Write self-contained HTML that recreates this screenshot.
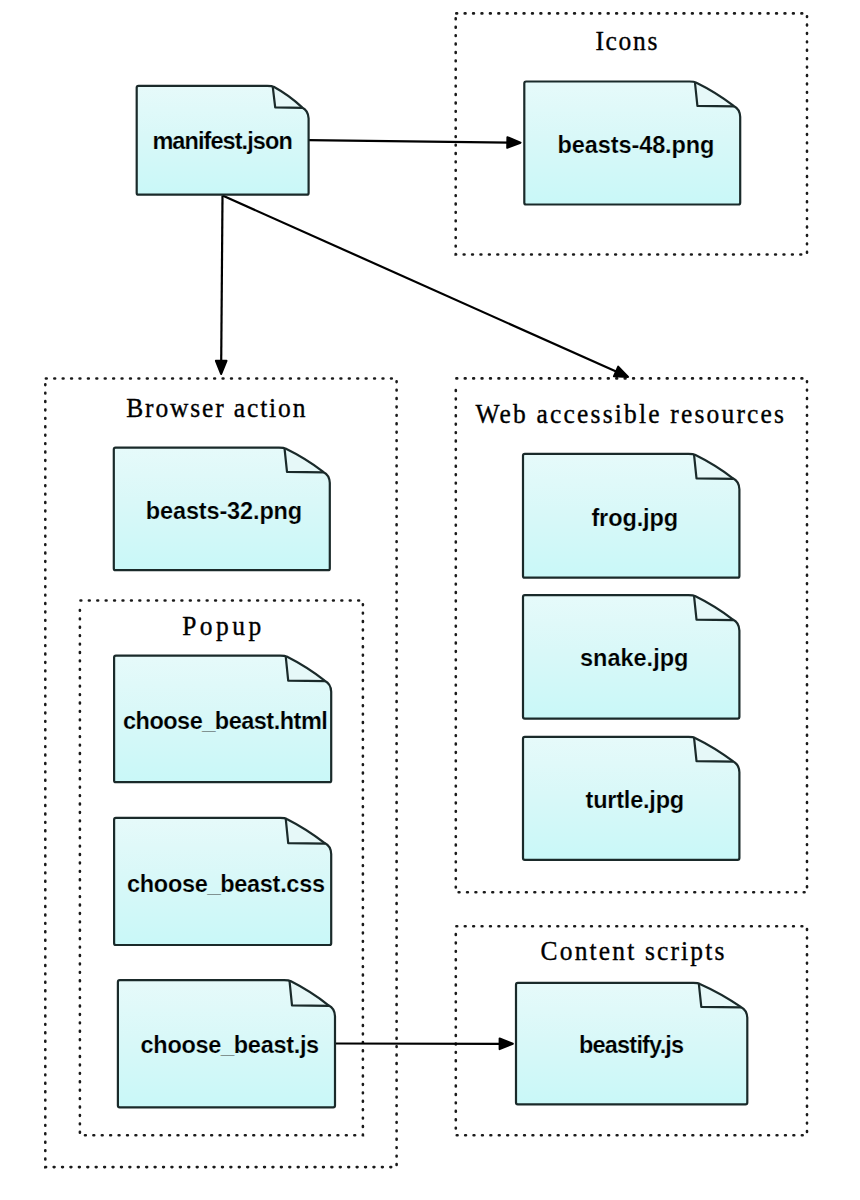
<!DOCTYPE html>
<html><head><meta charset="utf-8"><style>
html,body{margin:0;padding:0;background:#fff;width:860px;height:1200px;overflow:hidden}
svg{display:block}
.lbl{font-family:"Liberation Sans",sans-serif;font-weight:bold;fill:#000;stroke:#d8f6f5;stroke-width:0.2px}
.grp{font-family:"Liberation Serif",serif;fill:#000;stroke:#000;stroke-width:0.35px}
</style></head><body>
<svg width="860" height="1200" viewBox="0 0 860 1200">
<defs>
<linearGradient id="g" x1="0" y1="0" x2="0" y2="1">
<stop offset="0" stop-color="#e6fafa"/>
<stop offset="0.45" stop-color="#d9f8f8"/>
<stop offset="1" stop-color="#c9f8f8"/>
</linearGradient>
</defs>
<path d="M455.7,13.4 H807.0 V254.5 H455.7 V17.9" fill="none" stroke="#1a1a1a" stroke-width="2.6" stroke-dasharray="0.8 7.617" stroke-dashoffset="-0.6" stroke-linecap="round"/>
<text class="grp" x="595.40" y="49.99" font-size="25.5" textLength="62.00" lengthAdjust="spacing" transform="translate(0,49.99) scale(1,1.1) translate(0,-49.99)">Icons</text>
<path d="M45.3,378.5 H396.6 V1167.1 H45.3 V383.0" fill="none" stroke="#1a1a1a" stroke-width="2.6" stroke-dasharray="0.8 7.617" stroke-dashoffset="-0.6" stroke-linecap="round"/>
<text class="grp" x="126.20" y="417.47" font-size="25.5" textLength="179.20" lengthAdjust="spacing" transform="translate(0,417.47) scale(1,1.1) translate(0,-417.47)">Browser action</text>
<path d="M79.9,600.5 H362.9 V1135.2 H79.9 V605.0" fill="none" stroke="#1a1a1a" stroke-width="2.6" stroke-dasharray="0.8 7.617" stroke-dashoffset="-0.6" stroke-linecap="round"/>
<text class="grp" x="182.20" y="634.74" font-size="25.5" textLength="79.00" lengthAdjust="spacing" transform="translate(0,634.74) scale(1,1.1) translate(0,-634.74)">Popup</text>
<path d="M455.8,378.4 H807.0 V892.3 H455.8 V382.9" fill="none" stroke="#1a1a1a" stroke-width="2.6" stroke-dasharray="0.8 7.617" stroke-dashoffset="-0.6" stroke-linecap="round"/>
<text class="grp" x="475.40" y="422.88" font-size="25.5" textLength="308.60" lengthAdjust="spacing" transform="translate(0,422.88) scale(1,1.1) translate(0,-422.88)">Web accessible resources</text>
<path d="M455.8,926.2 H807.0 V1135.2 H455.8 V930.7" fill="none" stroke="#1a1a1a" stroke-width="2.6" stroke-dasharray="0.8 7.617" stroke-dashoffset="-0.6" stroke-linecap="round"/>
<text class="grp" x="540.60" y="960.40" font-size="25.5" textLength="183.80" lengthAdjust="spacing" transform="translate(0,960.40) scale(1,1.1) translate(0,-960.40)">Content scripts</text>
<path d="M308.4,140.1 L509.3,142.6" stroke="#000" stroke-width="2.2" fill="none"/>
<path d="M520.5,142.7 L507.2,147.8 L507.4,137.2 Z" fill="#000" stroke="#000" stroke-width="2" stroke-linejoin="round"/>
<path d="M222.5,195.5 L221.2,362.8" stroke="#000" stroke-width="2.2" fill="none"/>
<path d="M221.1,374.0 L215.9,360.8 L226.5,360.8 Z" fill="#000" stroke="#000" stroke-width="2" stroke-linejoin="round"/>
<path d="M222.5,195.5 L617.8,372.3" stroke="#000" stroke-width="2.2" fill="none"/>
<path d="M628.1,376.9 L613.9,376.3 L618.2,366.6 Z" fill="#000" stroke="#000" stroke-width="2" stroke-linejoin="round"/>
<path d="M335.0,1043.5 L501.6,1043.8" stroke="#000" stroke-width="2.2" fill="none"/>
<path d="M512.8,1043.8 L499.6,1049.1 L499.6,1038.5 Z" fill="#000" stroke="#000" stroke-width="2" stroke-linejoin="round"/>
<path d="M136.7,87.6 Q136.7,85.8 138.5,85.8 L267.2,85.8 Q272.2,85.8 273.7,86.8 Q289.2,95.3 302.1,107.4 Q308.3,110.4 308.6,118.4 L308.6,192.89999999999998 Q308.6,194.7 306.8,194.7 L138.5,194.7 Q136.7,194.7 136.7,192.89999999999998 Z" fill="url(#g)" stroke="none"/>
<path d="M272.7,86.3 Q289.2,95.3 302.1,107.4 L275.2,107.4 Z" fill="#e6f8f8" stroke="none"/>
<path d="M136.7,87.6 Q136.7,85.8 138.5,85.8 L267.2,85.8 Q272.2,85.8 273.7,86.8 Q289.2,95.3 302.1,107.4 Q308.3,110.4 308.6,118.4 L308.6,192.89999999999998 Q308.6,194.7 306.8,194.7 L138.5,194.7 Q136.7,194.7 136.7,192.89999999999998 Z" fill="none" stroke="#1a2a2a" stroke-width="2.2" stroke-linejoin="round"/>
<path d="M272.7,86.3 L275.2,107.4 L302.6,107.9" fill="none" stroke="#1a2a2a" stroke-width="2.2" stroke-linejoin="round"/>
<text class="lbl" x="152.40" y="149.36" font-size="23.5" textLength="140.40" lengthAdjust="spacing" transform="translate(0,149.36) scale(1,1.04) translate(0,-149.36)">manifest.json</text>
<path d="M524.3,83.3 Q524.3,81.5 526.0999999999999,81.5 L689.4,81.5 Q694.4,81.5 695.9,82.5 Q716.0,92.3 733.7,105.9 Q739.9,108.9 740.2,116.9 L740.2,202.7 Q740.2,204.5 738.4000000000001,204.5 L526.0999999999999,204.5 Q524.3,204.5 524.3,202.7 Z" fill="url(#g)" stroke="none"/>
<path d="M694.9,82.0 Q716.0,92.3 733.7,105.9 L697.4,105.9 Z" fill="#e6f8f8" stroke="none"/>
<path d="M524.3,83.3 Q524.3,81.5 526.0999999999999,81.5 L689.4,81.5 Q694.4,81.5 695.9,82.5 Q716.0,92.3 733.7,105.9 Q739.9,108.9 740.2,116.9 L740.2,202.7 Q740.2,204.5 738.4000000000001,204.5 L526.0999999999999,204.5 Q524.3,204.5 524.3,202.7 Z" fill="none" stroke="#1a2a2a" stroke-width="2.2" stroke-linejoin="round"/>
<path d="M694.9,82.0 L697.4,105.9 L734.2,106.4" fill="none" stroke="#1a2a2a" stroke-width="2.2" stroke-linejoin="round"/>
<text class="lbl" x="557.60" y="152.86" font-size="23.5" textLength="156.80" lengthAdjust="spacing" transform="translate(0,152.86) scale(1,1.04) translate(0,-152.86)">beasts-48.png</text>
<path d="M113.8,449.40000000000003 Q113.8,447.6 115.6,447.6 L279.0,447.6 Q284.0,447.6 285.5,448.6 Q305.6,458.4 323.3,471.9 Q329.5,474.9 329.8,482.9 L329.8,568.4000000000001 Q329.8,570.2 328.0,570.2 L115.6,570.2 Q113.8,570.2 113.8,568.4000000000001 Z" fill="url(#g)" stroke="none"/>
<path d="M284.5,448.1 Q305.6,458.4 323.3,471.9 L287.0,471.9 Z" fill="#e6f8f8" stroke="none"/>
<path d="M113.8,449.40000000000003 Q113.8,447.6 115.6,447.6 L279.0,447.6 Q284.0,447.6 285.5,448.6 Q305.6,458.4 323.3,471.9 Q329.5,474.9 329.8,482.9 L329.8,568.4000000000001 Q329.8,570.2 328.0,570.2 L115.6,570.2 Q113.8,570.2 113.8,568.4000000000001 Z" fill="none" stroke="#1a2a2a" stroke-width="2.2" stroke-linejoin="round"/>
<path d="M284.5,448.1 L287.0,471.9 L323.8,472.4" fill="none" stroke="#1a2a2a" stroke-width="2.2" stroke-linejoin="round"/>
<text class="lbl" x="145.80" y="518.69" font-size="23.5" textLength="156.40" lengthAdjust="spacing" transform="translate(0,518.69) scale(1,1.04) translate(0,-518.69)">beasts-32.png</text>
<path d="M114.1,657.4 Q114.1,655.6 115.89999999999999,655.6 L280.2,655.6 Q285.2,655.6 286.7,656.6 Q306.9,666.8 324.7,680.7 Q330.9,683.7 331.2,691.7 L331.2,780.4000000000001 Q331.2,782.2 329.4,782.2 L115.89999999999999,782.2 Q114.1,782.2 114.1,780.4000000000001 Z" fill="url(#g)" stroke="none"/>
<path d="M285.7,656.1 Q306.9,666.8 324.7,680.7 L288.2,680.7 Z" fill="#e6f8f8" stroke="none"/>
<path d="M114.1,657.4 Q114.1,655.6 115.89999999999999,655.6 L280.2,655.6 Q285.2,655.6 286.7,656.6 Q306.9,666.8 324.7,680.7 Q330.9,683.7 331.2,691.7 L331.2,780.4000000000001 Q331.2,782.2 329.4,782.2 L115.89999999999999,782.2 Q114.1,782.2 114.1,780.4000000000001 Z" fill="none" stroke="#1a2a2a" stroke-width="2.2" stroke-linejoin="round"/>
<path d="M285.7,656.1 L288.2,680.7 L325.2,681.2" fill="none" stroke="#1a2a2a" stroke-width="2.2" stroke-linejoin="round"/>
<text class="lbl" x="123.00" y="728.79" font-size="23.5" textLength="204.80" lengthAdjust="spacing" transform="translate(0,728.79) scale(1,1.04) translate(0,-728.79)">choose_beast.html</text>
<path d="M114.1,819.6999999999999 Q114.1,817.9 115.89999999999999,817.9 L280.2,817.9 Q285.2,817.9 286.7,818.9 Q306.9,829.1 324.7,843.1 Q330.9,846.1 331.2,854.1 L331.2,943.2 Q331.2,945.0 329.4,945.0 L115.89999999999999,945.0 Q114.1,945.0 114.1,943.2 Z" fill="url(#g)" stroke="none"/>
<path d="M285.7,818.4 Q306.9,829.1 324.7,843.1 L288.2,843.1 Z" fill="#e6f8f8" stroke="none"/>
<path d="M114.1,819.6999999999999 Q114.1,817.9 115.89999999999999,817.9 L280.2,817.9 Q285.2,817.9 286.7,818.9 Q306.9,829.1 324.7,843.1 Q330.9,846.1 331.2,854.1 L331.2,943.2 Q331.2,945.0 329.4,945.0 L115.89999999999999,945.0 Q114.1,945.0 114.1,943.2 Z" fill="none" stroke="#1a2a2a" stroke-width="2.2" stroke-linejoin="round"/>
<path d="M285.7,818.4 L288.2,843.1 L325.2,843.6" fill="none" stroke="#1a2a2a" stroke-width="2.2" stroke-linejoin="round"/>
<text class="lbl" x="127.00" y="891.58" font-size="23.5" textLength="198.00" lengthAdjust="spacing" transform="translate(0,891.58) scale(1,1.04) translate(0,-891.58)">choose_beast.css</text>
<path d="M117.9,981.9 Q117.9,980.1 119.7,980.1 L284.0,980.1 Q289.0,980.1 290.5,981.1 Q310.7,991.3 328.5,1005.3 Q334.7,1008.3 335.0,1016.3 L335.0,1105.6000000000001 Q335.0,1107.4 333.2,1107.4 L119.7,1107.4 Q117.9,1107.4 117.9,1105.6000000000001 Z" fill="url(#g)" stroke="none"/>
<path d="M289.5,980.6 Q310.7,991.3 328.5,1005.3 L292.0,1005.3 Z" fill="#e6f8f8" stroke="none"/>
<path d="M117.9,981.9 Q117.9,980.1 119.7,980.1 L284.0,980.1 Q289.0,980.1 290.5,981.1 Q310.7,991.3 328.5,1005.3 Q334.7,1008.3 335.0,1016.3 L335.0,1105.6000000000001 Q335.0,1107.4 333.2,1107.4 L119.7,1107.4 Q117.9,1107.4 117.9,1105.6000000000001 Z" fill="none" stroke="#1a2a2a" stroke-width="2.2" stroke-linejoin="round"/>
<path d="M289.5,980.6 L292.0,1005.3 L329.0,1005.8" fill="none" stroke="#1a2a2a" stroke-width="2.2" stroke-linejoin="round"/>
<text class="lbl" x="140.60" y="1052.76" font-size="23.5" textLength="178.60" lengthAdjust="spacing" transform="translate(0,1052.76) scale(1,1.04) translate(0,-1052.76)">choose_beast.js</text>
<path d="M523.0,455.6 Q523.0,453.8 524.8,453.8 L688.5,453.8 Q693.5,453.8 695.0,454.8 Q715.1,464.7 732.9,478.3 Q739.1,481.3 739.4,489.3 L739.4,575.9000000000001 Q739.4,577.7 737.6,577.7 L524.8,577.7 Q523.0,577.7 523.0,575.9000000000001 Z" fill="url(#g)" stroke="none"/>
<path d="M694.0,454.3 Q715.1,464.7 732.9,478.3 L696.5,478.3 Z" fill="#e6f8f8" stroke="none"/>
<path d="M523.0,455.6 Q523.0,453.8 524.8,453.8 L688.5,453.8 Q693.5,453.8 695.0,454.8 Q715.1,464.7 732.9,478.3 Q739.1,481.3 739.4,489.3 L739.4,575.9000000000001 Q739.4,577.7 737.6,577.7 L524.8,577.7 Q523.0,577.7 523.0,575.9000000000001 Z" fill="none" stroke="#1a2a2a" stroke-width="2.2" stroke-linejoin="round"/>
<path d="M694.0,454.3 L696.5,478.3 L733.4,478.8" fill="none" stroke="#1a2a2a" stroke-width="2.2" stroke-linejoin="round"/>
<text class="lbl" x="591.40" y="525.74" font-size="23.5" textLength="86.80" lengthAdjust="spacing" transform="translate(0,525.74) scale(1,1.04) translate(0,-525.74)">frog.jpg</text>
<path d="M523.0,596.9 Q523.0,595.1 524.8,595.1 L688.5,595.1 Q693.5,595.1 695.0,596.1 Q715.1,606.0 732.9,619.6 Q739.1,622.6 739.4,630.6 L739.4,716.8000000000001 Q739.4,718.6 737.6,718.6 L524.8,718.6 Q523.0,718.6 523.0,716.8000000000001 Z" fill="url(#g)" stroke="none"/>
<path d="M694.0,595.6 Q715.1,606.0 732.9,619.6 L696.5,619.6 Z" fill="#e6f8f8" stroke="none"/>
<path d="M523.0,596.9 Q523.0,595.1 524.8,595.1 L688.5,595.1 Q693.5,595.1 695.0,596.1 Q715.1,606.0 732.9,619.6 Q739.1,622.6 739.4,630.6 L739.4,716.8000000000001 Q739.4,718.6 737.6,718.6 L524.8,718.6 Q523.0,718.6 523.0,716.8000000000001 Z" fill="none" stroke="#1a2a2a" stroke-width="2.2" stroke-linejoin="round"/>
<path d="M694.0,595.6 L696.5,619.6 L733.4,620.1" fill="none" stroke="#1a2a2a" stroke-width="2.2" stroke-linejoin="round"/>
<text class="lbl" x="580.00" y="665.84" font-size="23.5" textLength="108.40" lengthAdjust="spacing" transform="translate(0,665.84) scale(1,1.04) translate(0,-665.84)">snake.jpg</text>
<path d="M523.0,738.6999999999999 Q523.0,736.9 524.8,736.9 L688.5,736.9 Q693.5,736.9 695.0,737.9 Q715.1,747.7 732.9,761.2 Q739.1,764.2 739.4,772.2 L739.4,858.0 Q739.4,859.8 737.6,859.8 L524.8,859.8 Q523.0,859.8 523.0,858.0 Z" fill="url(#g)" stroke="none"/>
<path d="M694.0,737.4 Q715.1,747.7 732.9,761.2 L696.5,761.2 Z" fill="#e6f8f8" stroke="none"/>
<path d="M523.0,738.6999999999999 Q523.0,736.9 524.8,736.9 L688.5,736.9 Q693.5,736.9 695.0,737.9 Q715.1,747.7 732.9,761.2 Q739.1,764.2 739.4,772.2 L739.4,858.0 Q739.4,859.8 737.6,859.8 L524.8,859.8 Q523.0,859.8 523.0,858.0 Z" fill="none" stroke="#1a2a2a" stroke-width="2.2" stroke-linejoin="round"/>
<path d="M694.0,737.4 L696.5,761.2 L733.4,761.7" fill="none" stroke="#1a2a2a" stroke-width="2.2" stroke-linejoin="round"/>
<text class="lbl" x="585.60" y="808.40" font-size="23.5" textLength="98.60" lengthAdjust="spacing" transform="translate(0,808.40) scale(1,1.04) translate(0,-808.40)">turtle.jpg</text>
<path d="M516.0,984.6999999999999 Q516.0,982.9 517.8,982.9 L693.3,982.9 Q698.3,982.9 699.8,983.9 Q721.4,993.5 740.8,1006.9 Q747.0,1009.9 747.3,1017.9 L747.3,1102.5 Q747.3,1104.3 745.5,1104.3 L517.8,1104.3 Q516.0,1104.3 516.0,1102.5 Z" fill="url(#g)" stroke="none"/>
<path d="M698.8,983.4 Q721.4,993.5 740.8,1006.9 L701.3,1006.9 Z" fill="#e6f8f8" stroke="none"/>
<path d="M516.0,984.6999999999999 Q516.0,982.9 517.8,982.9 L693.3,982.9 Q698.3,982.9 699.8,983.9 Q721.4,993.5 740.8,1006.9 Q747.0,1009.9 747.3,1017.9 L747.3,1102.5 Q747.3,1104.3 745.5,1104.3 L517.8,1104.3 Q516.0,1104.3 516.0,1102.5 Z" fill="none" stroke="#1a2a2a" stroke-width="2.2" stroke-linejoin="round"/>
<path d="M698.8,983.4 L701.3,1006.9 L741.3,1007.4" fill="none" stroke="#1a2a2a" stroke-width="2.2" stroke-linejoin="round"/>
<text class="lbl" x="579.00" y="1052.70" font-size="23.5" textLength="105.20" lengthAdjust="spacing" transform="translate(0,1052.70) scale(1,1.04) translate(0,-1052.70)">beastify.js</text>
</svg>
</body></html>
